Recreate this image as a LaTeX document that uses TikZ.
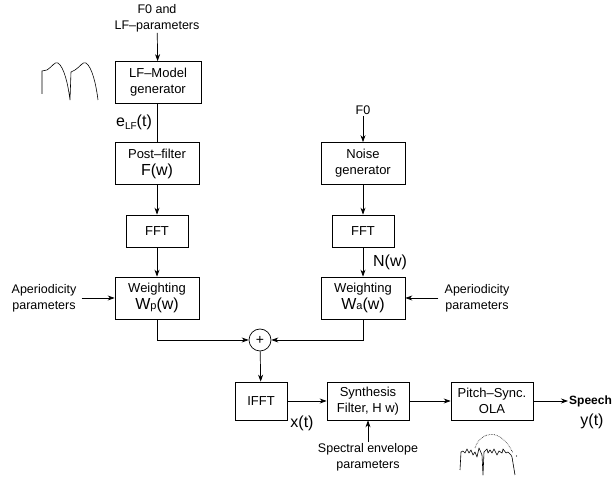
\documentclass[tikz,border=0pt]{standalone}
\usepackage{fontspec}
\setmainfont{Liberation Sans}
\usetikzlibrary{arrows.meta}

\newcommand{\bigsym}{\fontsize{16}{16}\selectfont}

\begin{document}
\begin{tikzpicture}[x=1pt, y=1pt,
    block/.style={draw, line width=0.7pt, align=center, inner sep=1pt,
        font=\fontsize{13}{16}\selectfont},
    tallbox/.style={block, minimum width=84pt, minimum height=42pt},
    fftbox/.style={block, minimum width=62pt, minimum height=32pt},
    lowbox/.style={block, minimum width=82pt, minimum height=38pt},
    lbl/.style={align=center, inner sep=1pt, font=\fontsize{12.5}{16}\selectfont},
    sym/.style={inner sep=1pt, font=\bigsym},
    flow/.style={-{Stealth[length=7pt, width=5pt]}, line width=0.7pt},
    wave/.style={line width=0.6pt}]
    \useasboundingbox (0,0) rectangle (613,484);

    % Periodic branch
    \node[lbl, anchor=south] (lfpar) at (157,451) {F0 and\\LF--parameters};
    \node[tallbox, minimum width=86pt] (lfgen) at (158,401.5) {LF--Model\\generator};
    \node[tallbox] (post) at (157,320.5) {Post--filter\\[1pt]{\bigsym F(w)}};
    \node[fftbox] (fftp) at (157,253) {FFT};
    \node[tallbox] (wp) at (157,186) {Weighting\\[1pt]{\bigsym W{\fontsize{11}{11}\selectfont p}(w)}};
    \node[lbl] (apl) at (44,186) {Aperiodicity\\parameters};
    \node[sym] (elf) at (134,362) {e\raisebox{-3pt}{\fontsize{10}{10}\selectfont LF}(t)};

    % Aperiodic branch
    \node[lbl, anchor=south] (f0) at (363,368) {F0};
    \node[tallbox] (noise) at (363,320.5) {Noise\\generator};
    \node[fftbox] (fftn) at (363,253) {FFT};
    \node[tallbox] (wa) at (363,186) {Weighting\\[1pt]{\bigsym W{\fontsize{11}{11}\selectfont a}(w)}};
    \node[lbl] (apr) at (477,186) {Aperiodicity\\parameters};
    \node[sym] (nw) at (390,222) {N(w)};

    % Sum and synthesis
    \node[circle, draw, line width=0.7pt, minimum size=22pt, inner sep=0pt,
        font=\fontsize{14}{14}\selectfont] (sum) at (260,144) {+};
    \node[lowbox, minimum width=52pt] (ifft) at (261,83) {IFFT};
    \node[lowbox] (synth) at (368,83) {Synthesis\\Filter, H w)};
    \node[lowbox] (ola) at (492,83) {Pitch--Sync.\\OLA};
    \node[lbl, font=\fontsize{12}{14}\bfseries, anchor=west] (speech) at (568,83) {Speech};
    \node[sym] (yt) at (592,63) {y(t)};
    \node[sym] (xt) at (302,61) {x(t)};
    \node[lbl] (spec) at (368,27) {Spectral envelope\\parameters};

    % Connectors
    \draw[flow] (lfpar) -- (lfgen);
    \draw[line width=0.7pt] (lfgen.south -| post.north) -- (post.north);
    \draw[flow] (post) -- (fftp);
    \draw[flow] (fftp) -- (wp);
    \draw[flow, shorten <=4pt] (apl.east) -- (wp.west);
    \draw[flow] (f0) -- (noise);
    \draw[flow] (noise) -- (fftn);
    \draw[flow] (fftn) -- (wa);
    \draw[flow, shorten <=5pt] (apr.west) -- (wa.east);
    \draw[flow] (wp.south) |- (sum.west);
    \draw[flow] (wa.south) |- (sum.east);
    \draw[flow] (sum) -- (ifft);
    \draw[flow] (ifft) -- (synth);
    \draw[flow] (synth) -- (ola);
    \draw[flow] (ola) -- (speech);
    \draw[flow] (spec) -- (synth);

    % LF pulse train
    \draw[wave] (42,390) -- (42,413) -- (47,414)
        .. controls (52,417) and (55,423) .. (58,421)
        .. controls (64,417) and (68,400) .. (70,384)
        -- (71,412) -- (75,414)
        .. controls (80,417) and (83,423) .. (86,421)
        .. controls (92,417) and (96,400) .. (98,384);

    % Windowed speech segment
    \draw[wave, line join=round] (460,14) -- (461,32) -- (463,33) -- (465,31)
        -- (467,35) -- (469,31) -- (471,34) -- (473,29) -- (475,32)
        -- (477,27) -- (479,36) -- (482,29) -- (483,9) -- (484,32)
        -- (487,35) -- (488,31) -- (490,34) -- (492,31) -- (494,35)
        -- (497,29) -- (499,33) -- (502,31) -- (503,35) -- (506,31)
        -- (508,32) -- (511,29) -- (512,27) -- (515,9);
    \fill (516.5,28) circle[radius=0.6];
    \draw[wave, densely dotted] (475,36) .. controls (480,52) and (500,58) .. (513,31);
\end{tikzpicture}
\end{document}
